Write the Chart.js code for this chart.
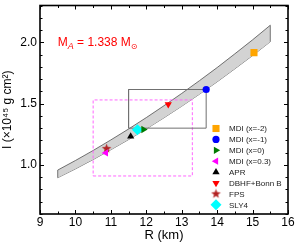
<!DOCTYPE html>
<html>
<head>
<meta charset="utf-8">
<script src="https://cdn.jsdelivr.net/npm/chart.js@4.4.1/dist/chart.umd.min.js"></script>
<style>
  body { margin: 0; background: #fff; }
  #wrap { width: 299px; height: 246px; position: relative; }
</style>
</head>
<body>
<div id="wrap"><canvas id="myChart"></canvas></div>
<script>
// band of I(R) for M = 1.338 Msun
const bandR = [9.5, 10, 10.5, 11, 11.5, 12, 12.5, 13, 13.5, 14, 14.5, 15, 15.5];
const bandUpper = [0.958, 1.036, 1.118, 1.204, 1.293, 1.386, 1.483, 1.583, 1.687, 1.794, 1.906, 2.020, 2.139];
const bandLower = [0.896, 0.968, 1.044, 1.124, 1.207, 1.294, 1.385, 1.479, 1.577, 1.678, 1.784, 1.892, 2.005];

// equations of state
const eosNames = ['MDI (x=-2)', 'MDI (x=-1)', 'MDI (x=0)', 'MDI (x=0.3)', 'APR', 'DBHF+Bonn B', 'FPS', 'SLY4'];
const eosR = [15.04, 13.69, 11.92, 10.86, 11.56, 12.62, 10.88, 11.75];
const eosI = [1.916, 1.615, 1.289, 1.098, 1.232, 1.494, 1.133, 1.286];

// boxes
const grayBoxR = [11.5, 13.69];
const grayBoxI = [1.3, 1.615];
const pinkBoxR = [10.5, 13.3];
const pinkBoxI = [0.91, 1.53];

// axis ticks
const xTicks = [9, 10, 11, 12, 13, 14, 15, 16];
const yTicks = [1.0, 1.5, 2.0];

// filled star for FPS
function makeStar(color) {
  var c = document.createElement('canvas');
  c.width = 11; c.height = 11;
  var g = c.getContext('2d');
  g.fillStyle = color;
  g.beginPath();
  for (var i = 0; i < 10; i++) {
    var r = i % 2 === 0 ? 5 : 2.1;
    var a = -Math.PI / 2 + i * Math.PI / 5;
    var px = 5.5 + r * Math.cos(a), py = 5.5 + r * Math.sin(a);
    if (i === 0) g.moveTo(px, py); else g.lineTo(px, py);
  }
  g.closePath();
  g.fill();
  return c;
}

const markerStyles = [
  { pointStyle: 'rect', rotation: 0, radius: 5, color: '#FFA500' },
  { pointStyle: 'circle', rotation: 0, radius: 3.6, color: '#0000FF' },
  { pointStyle: 'triangle', rotation: 90, radius: 4.2, color: '#007A00' },
  { pointStyle: 'triangle', rotation: -90, radius: 4.2, color: '#FF00FF' },
  { pointStyle: 'triangle', rotation: 0, radius: 4.2, color: '#000000' },
  { pointStyle: 'triangle', rotation: 180, radius: 4.2, color: '#FF0000' },
  { pointStyle: makeStar('#B22222'), rotation: 0, radius: 5, color: '#B22222' },
  { pointStyle: 'rectRot', rotation: 0, radius: 5.5, color: '#00FFFF' }
];

function boxPoints(rs, is) {
  return [
    { x: rs[0], y: is[0] }, { x: rs[1], y: is[0] },
    { x: rs[1], y: is[1] }, { x: rs[0], y: is[1] },
    { x: rs[0], y: is[0] }
  ];
}

var datasets = [];

datasets.push({
  label: 'band upper',
  data: bandR.map((r, i) => ({ x: r, y: bandUpper[i] })),
  showLine: true, borderColor: '#505050', borderWidth: 0.8,
  backgroundColor: '#d3d3d3', fill: '+1', pointRadius: 0, order: 10
});
datasets.push({
  label: 'band lower',
  data: bandR.map((r, i) => ({ x: r, y: bandLower[i] })),
  showLine: true, borderColor: '#505050', borderWidth: 0.8,
  fill: false, pointRadius: 0, order: 10
});
var last = bandR.length - 1;
datasets.push({
  label: 'band left',
  data: [{ x: bandR[0], y: bandLower[0] }, { x: bandR[0], y: bandUpper[0] }],
  showLine: true, borderColor: '#505050', borderWidth: 0.8, pointRadius: 0, order: 9
});
datasets.push({
  label: 'band right',
  data: [{ x: bandR[last], y: bandLower[last] }, { x: bandR[last], y: bandUpper[last] }],
  showLine: true, borderColor: '#505050', borderWidth: 0.8, pointRadius: 0, order: 9
});
datasets.push({
  label: 'gray box',
  data: boxPoints(grayBoxR, grayBoxI),
  showLine: true, borderColor: '#707070', borderWidth: 1, pointRadius: 0, order: 5
});
datasets.push({
  label: 'pink box',
  data: boxPoints(pinkBoxR, pinkBoxI),
  showLine: true, borderColor: '#FF66FF', borderWidth: 1, borderDash: [3, 2],
  pointRadius: 0, order: 5
});

eosNames.forEach(function (name, i) {
  var m = markerStyles[i];
  datasets.push({
    label: name,
    data: [{ x: eosR[i], y: eosI[i] }],
    pointStyle: m.pointStyle,
    rotation: m.rotation,
    pointRadius: m.radius,
    backgroundColor: m.color,
    borderColor: m.color,
    borderWidth: 0,
    order: 1
  });
});

const framePlugin = {
  id: 'frameTicks',
  afterDatasetsDraw(chart) {
    const ctx = chart.ctx;
    const a = chart.chartArea;
    const xs = chart.scales.x, ys = chart.scales.y;
    ctx.save();
    ctx.strokeStyle = '#000';
    // minor / major ticks pointing inward
    ctx.lineWidth = 1;
    for (var k = 0; k <= 14; k++) {
      var v = 9 + k * 0.5;
      var px = Math.round(xs.getPixelForValue(v)) + 0.5;
      var len = (k % 2 === 0) ? 4 : 2.5;
      ctx.beginPath();
      ctx.moveTo(px, a.bottom); ctx.lineTo(px, a.bottom - len);
      ctx.moveTo(px, a.top); ctx.lineTo(px, a.top + len);
      ctx.stroke();
    }
    for (var j = 6; j <= 23; j++) {
      var py = Math.round(ys.getPixelForValue(j / 10)) + 0.5;
      var l2 = (j % 5 === 0) ? 4 : 2.5;
      ctx.beginPath();
      ctx.moveTo(a.left, py); ctx.lineTo(a.left + l2, py);
      ctx.moveTo(a.right, py); ctx.lineTo(a.right - l2, py);
      ctx.stroke();
    }
    ctx.lineWidth = 1.6;
    ctx.strokeRect(a.left, a.top, a.right - a.left, a.bottom - a.top);

    // mass label
    var tx = xs.getPixelForValue(9.5), ty = ys.getPixelForValue(1.97);
    ctx.fillStyle = '#FF0000';
    ctx.textBaseline = 'alphabetic';
    ctx.font = '12px "Liberation Sans", Arial, sans-serif';
    ctx.fillText('M', tx, ty);
    tx += ctx.measureText('M').width;
    ctx.font = 'italic 9px "Liberation Sans", Arial, sans-serif';
    ctx.fillText('A', tx, ty + 3);
    tx += ctx.measureText('A').width;
    ctx.font = '12px "Liberation Sans", Arial, sans-serif';
    var mid = ' = 1.338 M';
    ctx.fillText(mid, tx, ty);
    tx += ctx.measureText(mid).width;
    ctx.font = '8px "DejaVu Sans", sans-serif';
    ctx.fillText('\u2299', tx, ty + 3);

    // legend
    var mx = a.right - 72, tx2 = a.right - 59;
    var y0 = a.top + 123, dy = 10.9;
    ctx.font = '8px "Liberation Sans", Arial, sans-serif';
    ctx.textBaseline = 'middle';
    eosNames.forEach(function (name, i) {
      var m = markerStyles[i];
      var yy = y0 + i * dy;
      ctx.fillStyle = m.color;
      ctx.strokeStyle = m.color;
      Chart.helpers.drawPoint(ctx, {
        pointStyle: m.pointStyle, rotation: m.rotation, radius: m.radius, borderWidth: 0
      }, mx, yy);
      ctx.fillStyle = '#222';
      ctx.fillText(name, tx2, yy + 0.5);
    });
    ctx.restore();
  }
};

var ctx = document.getElementById('myChart');

new Chart(ctx, {
  type: 'scatter',
  data: { datasets: datasets },
  options: {
    responsive: true,
    maintainAspectRatio: false,
    animation: false,
    layout: { padding: { top: 3.5, right: 11, left: 0, bottom: 0 } },
    plugins: {
      legend: { display: false },
      tooltip: { enabled: false }
    },
    scales: {
      x: {
        type: 'linear', min: 9, max: 16,
        grid: { display: false, drawTicks: false },
        border: { display: false },
        afterBuildTicks: function (s) { s.ticks = xTicks.map(v => ({ value: v })); },
        afterFit: function (s) {
          s.height = 32; s.paddingLeft = 0; s.paddingRight = 0;
        },
        ticks: {
          color: '#000', padding: 1,
          font: { family: '"Liberation Sans", Arial, sans-serif', size: 12 }
        },
        title: {
          display: true, text: 'R (km)', color: '#000', padding: { top: 0, bottom: 3 },
          font: { family: '"Liberation Sans", Arial, sans-serif', size: 13 }
        }
      },
      y: {
        type: 'linear', min: 0.6, max: 2.3,
        grid: { display: false, drawTicks: false },
        border: { display: false },
        afterBuildTicks: function (s) { s.ticks = yTicks.map(v => ({ value: v })); },
        afterFit: function (s) {
          s.width = 40; s.paddingTop = 0; s.paddingBottom = 0;
        },
        ticks: {
          color: '#000', padding: 3,
          callback: function (v) { return v.toFixed(1); },
          font: { family: '"Liberation Sans", Arial, sans-serif', size: 12 }
        },
        title: {
          display: true, text: 'I (\u00d710\u2074\u2075 g cm\u00b2)', color: '#000',
          padding: { top: 0, bottom: 0 },
          font: { family: '"Liberation Sans", Arial, sans-serif', size: 12 }
        }
      }
    }
  },
  plugins: [framePlugin]
});
</script>
</body>
</html>
